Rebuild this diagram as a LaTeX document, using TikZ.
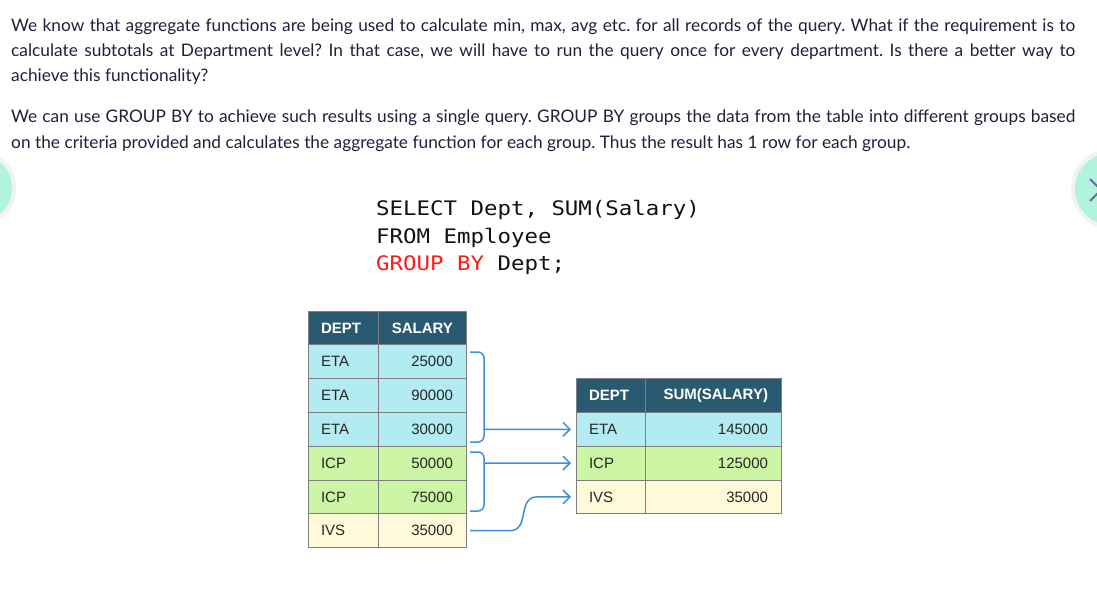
\documentclass[tikz,border=0pt]{standalone}
\usepackage{fontspec}
\setmainfont{Lato}
\newfontfamily\tabfont{Liberation Sans}
\newfontfamily\codefont[FakeStretch=1.12]{DejaVu Sans Mono}
\usetikzlibrary{positioning,arrows.meta}
\frenchspacing

\definecolor{bodytext}{HTML}{20203C}
\definecolor{headblue}{HTML}{2A5A72}
\definecolor{etacyan}{HTML}{B3EBF3}
\definecolor{icpgreen}{HTML}{CDF5A6}
\definecolor{ivsyellow}{HTML}{FFF9D9}
\definecolor{gridgray}{HTML}{7F7F7F}
\definecolor{tabtext}{HTML}{262626}
\definecolor{flowblue}{HTML}{3F8FD6}
\definecolor{mint}{HTML}{B1F3DD}
\definecolor{xgray}{HTML}{6F6A99}
\definecolor{codered}{HTML}{FF1A1A}
\definecolor{codeblack}{HTML}{111111}

\tikzset{
  para/.style = {font = {\fontsize{17.3pt}{25pt}\selectfont}, text = bodytext, inner sep = 0pt, anchor = base west},
  code/.style = {font = {\codefont\fontsize{20pt}{27pt}\selectfont}, text = codeblack, inner sep = 0pt, anchor = base west},
  cell/.style = {draw = gridgray, line width = 0.8pt, minimum height = 33.8pt, inner xsep = 13pt, inner ysep = 0pt,
                 outer sep = 0pt, font = {\tabfont\fontsize{15pt}{18pt}\selectfont}, text = tabtext, anchor = north west},
  deptcol/.style = {cell, text width = 44pt, align = left},
  deptcolb/.style = {cell, text width = 43pt, align = left},
  salcol/.style = {cell, text width = 62pt, align = right},
  sumcol/.style = {cell, text width = 110pt, align = right},
  head/.style = {fill = headblue, text = white, font = {\tabfont\bfseries\fontsize{15pt}{18pt}\selectfont}},
  eta/.style = {fill = etacyan},
  icp/.style = {fill = icpgreen},
  ivs/.style = {fill = ivsyellow},
  brace/.style = {draw = flowblue, line width = 1.5pt, rounded corners = 6pt},
  flow/.style = {draw = flowblue, line width = 1.5pt, -{Straight Barb[length=7pt,width=14pt]}, shorten > = 5pt}
}

\begin{document}
\begin{tikzpicture}[x = 1pt, y = -1pt]
            \useasboundingbox (0, 0) rectangle (1097, 615);
            \fill[white] (0, 0) rectangle (1097, 615);

            % slider buttons
            \fill[black, opacity = 0.05] (-23, 188) circle (39pt);
            \fill[mint] (-23, 188) circle (35pt);
            \fill[black, opacity = 0.05] (1111, 189) circle (40pt);
            \fill[mint] (1111, 189) circle (36pt);
            \draw[xgray, line width = 2pt] (1090, 179) -- (1112, 201) (1090, 201) -- (1112, 179);

            % text
            \node[para] (p1) at (11, 32) {\makebox[1064pt][s]{We know that aggregate functions are being used to calculate min, max, avg etc. for all records of the query. What if the requirement is to}};
            \node[para] (p2) at (11, 57) {\makebox[1064pt][s]{calculate subtotals at Department level? In that case, we will have to run the query once for every department. Is there a better way to}};
            \node[para] (p3) at (11, 82) {achieve this functionality?};
            \node[para] (p4) at (11, 123) {\makebox[1064pt][s]{We can use GROUP BY to achieve such results using a single query. GROUP BY groups the data from the table into different groups based}};
            \node[para] (p5) at (11, 148) {on the criteria provided and calculates the aggregate function for each group. Thus the result has 1 row for each group.};

            % query
            \node[code] (sel) at (376, 215) {SELECT Dept, SUM(Salary)};
            \node[code] (frm) at (376, 243) {FROM Employee};
            \node[code] (grp) at (376, 270) {\textcolor{codered}{GROUP BY} Dept;};

            % Employee table
            \node[deptcol, head] (d0) at (308, 311) {DEPT};
            \node[salcol, head, right = 0pt of d0] (s0) {SALARY};
            \node[deptcol, eta, below = 0pt of d0] (d1) {ETA};
            \node[salcol, eta, right = 0pt of d1] (s1) {25000};
            \node[deptcol, eta, below = 0pt of d1] (d2) {ETA};
            \node[salcol, eta, right = 0pt of d2] (s2) {90000};
            \node[deptcol, eta, below = 0pt of d2] (d3) {ETA};
            \node[salcol, eta, right = 0pt of d3] (s3) {30000};
            \node[deptcol, icp, below = 0pt of d3] (d4) {ICP};
            \node[salcol, icp, right = 0pt of d4] (s4) {50000};
            \node[deptcol, icp, below = 0pt of d4] (d5) {ICP};
            \node[salcol, icp, right = 0pt of d5] (s5) {75000};
            \node[deptcol, ivs, below = 0pt of d5] (d6) {IVS};
            \node[salcol, ivs, right = 0pt of d6] (s6) {35000};

            % result table
            \node[deptcolb, head, right = 110pt of s2] (g0) {DEPT};
            \node[sumcol, head, right = 0pt of g0] (m0) {SUM(SALARY)};
            \node[deptcolb, eta, below = 0pt of g0] (g1) {ETA};
            \node[sumcol, eta, right = 0pt of g1] (m1) {145000};
            \node[deptcolb, icp, below = 0pt of g1] (g2) {ICP};
            \node[sumcol, icp, right = 0pt of g2] (m2) {125000};
            \node[deptcolb, ivs, below = 0pt of g2] (g3) {IVS};
            \node[sumcol, ivs, right = 0pt of g3] (m3) {35000};

            % groups and arrows
            \draw[brace] (470, 352) -- (484, 352) -- (484, 442) -- (470, 442);
            \draw[brace] (470, 452) -- (484, 452) -- (484, 511) -- (470, 511);
            \coordinate (b1) at (484, 429.3);
            \coordinate (b2) at (484, 463.1);
            \coordinate (k1) at (510, 530.7);
            \coordinate (k2) at (537, 496.9);
            \draw[flow] (b1) -- (g1);
            \draw[flow] (b2) -- (g2);
            \draw[flow, shorten < = 4pt] (s6.east) -- (k1) .. controls +(20, 0) and +(-20, 0) .. (k2) -- (g3);
\end{tikzpicture}
\end{document}
